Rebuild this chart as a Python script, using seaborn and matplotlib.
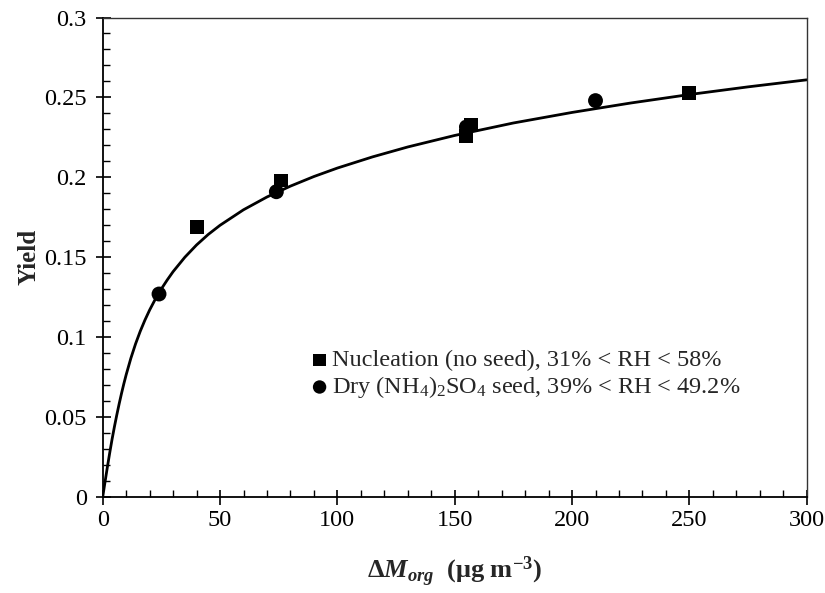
import numpy as np
import pandas as pd
import matplotlib
matplotlib.use("Agg")
import matplotlib.pyplot as plt
from matplotlib.ticker import MultipleLocator
import seaborn as sns

# ---- data ----
nuc_x = [40, 76, 155, 157, 250]
nuc_y = [0.169, 0.198, 0.226, 0.233, 0.253]
dry_x = [24, 74, 155, 210]
dry_y = [0.127, 0.191, 0.2315, 0.248]
# fitted curve
curve_x = [0, 1, 2, 3, 4, 5, 6, 7, 8, 9, 10, 12, 14, 16, 18, 20, 22.5, 25,
           27.5, 30, 35, 40, 45, 50, 60, 70, 80, 90, 100, 115, 130, 150,
           175, 200, 225, 250, 275, 300]
curve_y = [0, 0.0095, 0.0188, 0.0277, 0.0362, 0.0440, 0.0513, 0.0582,
           0.0647, 0.0708, 0.0765, 0.0868, 0.0958, 0.1037, 0.1107, 0.1170,
           0.1240, 0.1302, 0.1358, 0.1410, 0.1500, 0.1577, 0.1643, 0.1700,
           0.1797, 0.1877, 0.1945, 0.2005, 0.2058, 0.2128, 0.2190, 0.2262,
           0.2340, 0.2406, 0.2465, 0.2518, 0.2566, 0.2610]
labels = ["Nucleation (no seed), 31% < RH < 58%",
          "Dry (NH$_4$)$_2$SO$_4$ seed, 39% < RH < 49.2%"]
x_ticks = [0, 50, 100, 150, 200, 250, 300]
y_ticks = [0, 0.05, 0.1, 0.15, 0.2, 0.25, 0.3]
y_tick_labels = ["0", "0.05", "0.1", "0.15", "0.2", "0.25", "0.3"]

sns.set_theme(style="ticks")
plt.rcParams["font.family"] = ["Liberation Serif", "DejaVu Serif"]
plt.rcParams["mathtext.fontset"] = "custom"
plt.rcParams["mathtext.rm"] = "Liberation Serif"
plt.rcParams["mathtext.it"] = "Liberation Serif:italic"
plt.rcParams["mathtext.bf"] = "Liberation Serif:bold"
plt.rcParams["mathtext.bfit"] = "Liberation Serif:italic:bold"

fig = plt.figure(figsize=(8.25, 5.93), dpi=100)
ax = fig.add_axes([102.7 / 825, 1 - 497 / 593, (806.7 - 102.7) / 825, (497 - 17.5) / 593])

df_curve = pd.DataFrame({"x": curve_x, "y": curve_y})
sns.lineplot(data=df_curve, x="x", y="y", ax=ax, color="black", lw=2.0,
             sort=False, estimator=None)

df_nuc = pd.DataFrame({"x": nuc_x, "y": nuc_y})
df_dry = pd.DataFrame({"x": dry_x, "y": dry_y})
sns.scatterplot(data=df_nuc, x="x", y="y", ax=ax, marker="s", s=100,
                color="black", edgecolor="none", label=labels[0], zorder=3)
sns.scatterplot(data=df_dry, x="x", y="y", ax=ax, marker="o", s=115,
                color="black", edgecolor="none", label=labels[1], zorder=3)

ax.set_xlim(0, 300)
ax.set_ylim(0, 0.3)
ax.set_xticks(x_ticks)
ax.set_yticks(y_ticks)
ax.set_yticklabels(y_tick_labels)
ax.xaxis.set_minor_locator(MultipleLocator(10))
ax.yaxis.set_minor_locator(MultipleLocator(0.01))
ax.tick_params(which="major", direction="inout", length=10.8, width=1.2,
               labelsize=17.5, color="black", labelcolor="black")
ax.tick_params(which="minor", direction="in", length=5, width=1.0, color="black")
ax.tick_params(axis="x", which="major", pad=4)
ax.tick_params(axis="y", which="major", pad=6)

for side in ["left", "bottom"]:
    ax.spines[side].set_linewidth(1.3)
    ax.spines[side].set_color("black")
for side in ["top", "right"]:
    ax.spines[side].set_linewidth(1.0)
    ax.spines[side].set_color("#333333")

ax.set_ylabel("Yield", fontsize=18, fontweight="bold")
ax.yaxis.set_label_coords(-0.088, 0.5)
ax.set_xlabel(r"$\mathbf{\Delta}\mathbfit{M}_{\mathbfit{org}}$  $\mathbf{(μg\ m^{-3})}$",
              fontsize=19, labelpad=17)

leg = ax.legend(loc="upper left", bbox_to_anchor=(0.277, 0.328), frameon=False,
                fontsize=17.5, handletextpad=0.0, labelspacing=0.12,
                borderaxespad=0, handlelength=1.0, markerscale=0.9)

fig.savefig("out.png", dpi=100)
